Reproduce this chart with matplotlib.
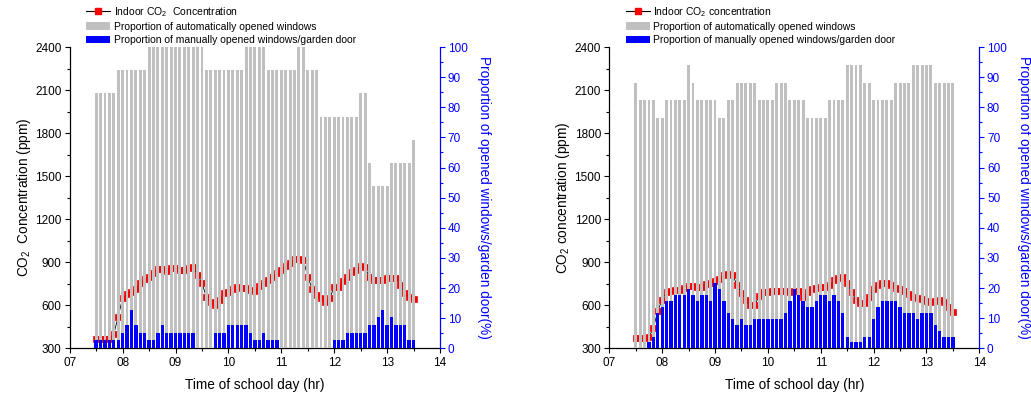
import numpy as np
import matplotlib
matplotlib.use("Agg")
import matplotlib.pyplot as plt
from matplotlib.lines import Line2D
from matplotlib.patches import Patch
from matplotlib.ticker import MultipleLocator

plt.rcParams["font.family"] = ["Liberation Sans", "DejaVu Sans"]
plt.rcParams["mathtext.fontset"] = "custom"
plt.rcParams["mathtext.rm"] = "Liberation Sans"
plt.rcParams["mathtext.it"] = "Liberation Sans:italic"

# 5-minute sampling grid over the school day (hours)
hours = np.arange(7.5, 13.5 + 1e-6, 5 / 60)

xtick_pos = [7, 8, 9, 10, 11, 12, 13, 14]
xtick_labels = ["07", "08", "09", "10", "11", "12", "13", "14"]

# ---- Classroom A ----
co2_a = [365, 365, 365, 365, 400, 520, 650, 675, 690, 712, 752, 785, 798, 825,
         850, 850, 842, 858, 860, 848, 846, 858, 865, 812, 754, 660, 620, 602,
         640, 684, 695, 712, 726, 719, 719, 707, 702, 735, 754, 777, 800, 828,
         846, 874, 897, 921, 921, 916, 800, 712, 672, 649, 625, 649, 730, 730,
         772, 800, 830, 846, 874, 865, 795, 777, 777, 777, 788, 788, 788, 742,
         684, 656, 642]
auto_a = [84.6, 84.6, 84.6, 84.6, 84.6, 92.3, 92.3, 92.3, 92.3, 92.3, 92.3, 92.3,
          100, 100, 100, 100, 100, 100, 100, 100, 100, 100, 100, 100, 100,
          92.3, 92.3, 92.3, 92.3, 92.3, 92.3, 92.3, 92.3, 92.3,
          100, 100, 100, 100, 100,
          92.3, 92.3, 92.3, 92.3, 92.3, 92.3, 92.3,
          100, 100, 92.3, 92.3, 92.3,
          76.9, 76.9, 76.9, 76.9, 76.9, 76.9, 76.9, 76.9, 76.9,
          84.6, 84.6, 61.5, 53.8, 53.8, 53.8, 53.8,
          61.5, 61.5, 61.5, 61.5, 61.5, 69.2]
manual_a = [2.6, 2.6, 2.6, 2.6, 2.6, 2.6, 5.1, 7.7, 12.8, 7.7, 5.1, 5.1, 2.6, 2.6,
            5.1, 7.7, 5.1, 5.1, 5.1, 5.1, 5.1, 5.1, 5.1, 0, 0, 0, 0,
            5.1, 5.1, 5.1, 7.7, 7.7, 7.7, 7.7, 7.7, 5.1, 2.6, 2.6, 5.1,
            2.6, 2.6, 2.6, 0, 0, 0, 0, 0, 0, 0, 0, 0, 0, 0, 0,
            2.6, 2.6, 2.6, 5.1, 5.1, 5.1, 5.1, 5.1, 7.7, 7.7, 10.3, 12.8,
            7.7, 10.3, 7.7, 7.7, 7.7, 2.6, 2.6]

# ---- Classroom B ----
co2_b = [370, 370, 370, 380, 440, 560, 640, 690, 700, 705, 707, 722, 735, 735,
         726, 728, 745, 756, 768, 785, 812, 815, 812, 740, 684, 637, 600, 600,
         665, 690, 695, 700, 702, 702, 700, 695, 700, 700, 660, 690, 712, 722,
         726, 726, 740, 775, 792, 796, 754, 690, 640, 614, 614, 660, 710, 740,
         758, 752, 740, 720, 712, 700, 680, 660, 650, 642, 630, 620, 630, 637,
         625, 590, 555]
auto_b = [88.2, 82.4, 82.4, 82.4, 82.4, 76.5, 76.5, 82.4, 82.4, 82.4, 82.4, 82.4,
          94.1, 88.2, 82.4, 82.4, 82.4, 82.4, 82.4, 76.5, 76.5, 82.4, 82.4,
          88.2, 88.2, 88.2, 88.2, 88.2, 82.4, 82.4, 82.4, 82.4,
          88.2, 88.2, 88.2, 82.4, 82.4, 82.4, 82.4,
          76.5, 76.5, 76.5, 76.5, 76.5, 82.4, 82.4, 82.4, 82.4,
          94.1, 94.1, 94.1, 94.1, 88.2, 88.2,
          82.4, 82.4, 82.4, 82.4, 82.4, 88.2, 88.2, 88.2, 88.2,
          94.1, 94.1, 94.1, 94.1, 94.1, 88.2, 88.2, 88.2, 88.2, 88.2]
manual_b = [0, 0, 0, 2.0, 3.9, 11.8, 13.7, 15.7, 15.7, 17.6, 17.6, 17.6, 19.6,
            17.6, 15.7, 17.6, 17.6, 15.7, 21.6, 19.6, 15.7, 11.8, 9.8, 7.8,
            9.8, 7.8, 7.8, 9.8, 9.8, 9.8, 9.8, 9.8, 9.8, 9.8, 11.8, 15.7,
            19.6, 17.6, 15.7, 13.7, 13.7, 15.7, 17.6, 17.6, 15.7, 17.6, 15.7,
            11.8, 3.9, 2.0, 2.0, 2.0, 3.9, 3.9, 9.8, 13.7, 15.7, 15.7, 15.7,
            15.7, 13.7, 11.8, 11.8, 11.8, 9.8, 11.8, 11.8, 11.8, 7.8, 5.9,
            3.9, 3.9, 3.9]

GRAY = "#c0c0c0"
BLUE = "#0000ff"
STEP = 5 / 60


def draw_panel(ax, co2, auto, manual, co2_name, ylabel):
    ax.plot(hours, co2, color="black", lw=0.6, marker="s", ms=4.2,
            mfc="red", mec="red", mew=0.5)
    ax.set_xlim(7, 14)
    ax.set_ylim(300, 2400)
    ax.yaxis.set_major_locator(MultipleLocator(300))
    ax.yaxis.set_minor_locator(MultipleLocator(150))
    ax.set_xticks(xtick_pos)
    ax.set_xticklabels(xtick_labels)
    ax.xaxis.set_minor_locator(MultipleLocator(0.5))
    ax.tick_params(which="major", direction="out", length=3.5, width=0.8,
                   labelsize=8.5, pad=2.5)
    ax.tick_params(which="minor", direction="out", length=2, width=0.8)
    for s in ("top", "right"):
        ax.spines[s].set_visible(False)
    ax.spines["left"].set_linewidth(0.9)
    ax.spines["bottom"].set_linewidth(0.9)
    ax.set_ylabel(ylabel, fontsize=9.8, labelpad=1.5)
    ax.set_xlabel("Time of school day (hr)", fontsize=9.8, labelpad=7)

    ax2 = ax.twinx()
    ax2.bar(hours, auto, width=0.66 * STEP, color=GRAY, lw=0)
    ax2.bar(hours, manual, width=0.76 * STEP, color=BLUE, lw=0)
    ax2.set_ylim(0, 100)
    ax2.yaxis.set_major_locator(MultipleLocator(10))
    ax2.yaxis.set_minor_locator(MultipleLocator(5))
    for s in ("top", "left", "bottom"):
        ax2.spines[s].set_visible(False)
    ax2.spines["right"].set_color(BLUE)
    ax2.spines["right"].set_linewidth(0.9)
    ax2.tick_params(which="major", direction="out", length=3.5, width=0.8,
                    colors=BLUE, labelsize=8.5, pad=2)
    ax2.tick_params(which="minor", direction="out", length=2, width=0.8,
                    colors=BLUE)
    ax2.set_ylabel("Proportion of opened windows/garden door(%)", color=BLUE,
                   fontsize=9.8, rotation=-90, va="bottom", labelpad=7)

    handles = [
        Line2D([], [], color="black", lw=0.8, marker="s", ms=4.5,
               mfc="red", mec="red"),
        Patch(facecolor=GRAY, edgecolor="none"),
        Patch(facecolor=BLUE, edgecolor="none"),
    ]
    labels = [co2_name, "Proportion of automatically opened windows",
              "Proportion of manually opened windows/garden door"]
    ax2.legend(handles, labels, loc="upper left", bbox_to_anchor=(0.044, 1.14),
               frameon=False, fontsize=7.5, handlelength=2.3,
               handletextpad=0.35, labelspacing=0.3, borderpad=0,
               borderaxespad=0)
    return ax2


fig = plt.figure(figsize=(10.31, 3.98), dpi=100)
ax_a = fig.add_axes([0.0676, 0.1249, 0.3592, 0.757])
ax_b = fig.add_axes([0.5910, 0.1249, 0.3589, 0.757])

draw_panel(ax_a, co2_a, auto_a, manual_a, "Indoor CO$_2$  Concentration",
           "CO$_2$  Concentration (ppm)")
draw_panel(ax_b, co2_b, auto_b, manual_b, "Indoor CO$_2$ concentration",
           "CO$_2$ concentration (ppm)")

fig.savefig("out.png", dpi=100)
